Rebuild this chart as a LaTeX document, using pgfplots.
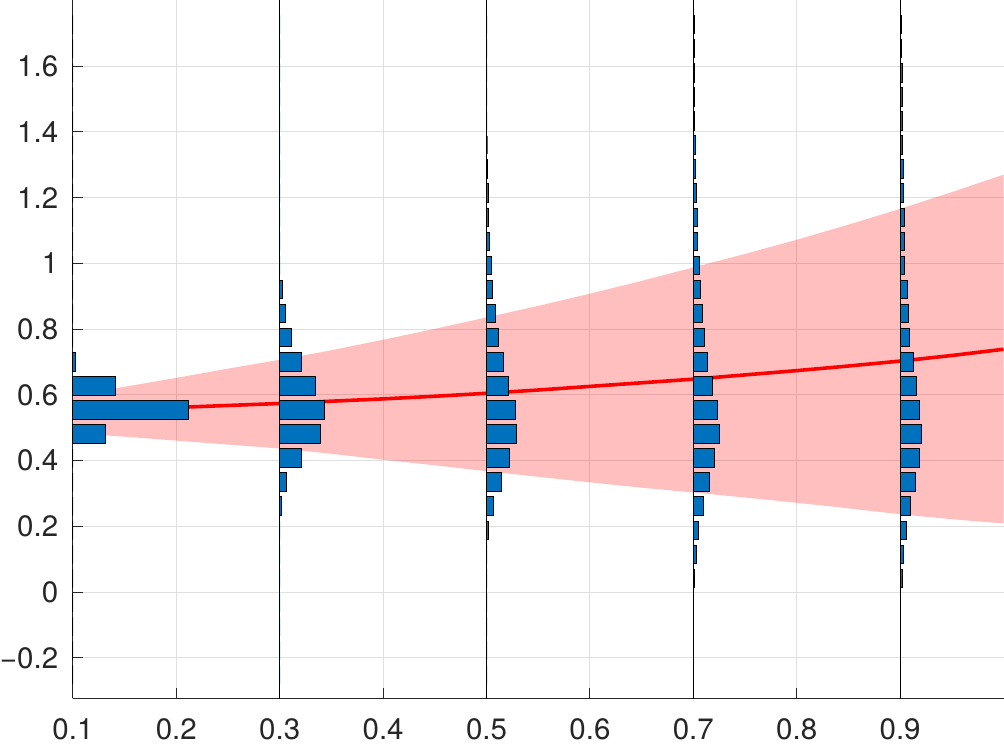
\documentclass[border=0pt]{standalone}
\usepackage{pgfplots}
\pgfplotsset{compat=1.18}
\usepackage{pgfplotstable}
\usepgfplotslibrary{fillbetween}
\usepackage{fontspec}
\setmainfont{TeX Gyre Heros}
\definecolor{barblue}{RGB}{0,114,189}
\definecolor{axgray}{RGB}{38,38,38}
\definecolor{gridgray}{RGB}{223,223,223}
\pgfdeclareplotmark{hbar}{%
  \pgfpathrectangle{\pgfpoint{0pt}{-4.65pt}}{\pgfpoint{\barlen pt}{9.3pt}}%
  \pgfusepathqfillstroke}
\pgfplotstableread{
y a b c d e
-0.25125 0 0 0 0 0
-0.1780 0 0 0 0 0
-0.10475 0 0 0 0 0
-0.0315 0 0 0 0 0
0.04175 0 0 0 0.0007 0.0019
0.1150 0 0 0 0.0029 0.0036
0.18825 0 0 0.0022 0.0051 0.0060
0.2615 0 0.0013 0.0069 0.0101 0.0100
0.33475 0 0.0070 0.0149 0.0160 0.0147
0.4080 0 0.0215 0.0225 0.0207 0.0188
0.48125 0.0316 0.0399 0.0292 0.0249 0.0203
0.5545 0.1120 0.0437 0.0282 0.0229 0.0188
0.62775 0.0412 0.0345 0.0215 0.0190 0.0159
0.7010 0.0022 0.0212 0.0167 0.0133 0.0128
0.77425 0 0.0109 0.0119 0.0111 0.0090
0.8475 0 0.0058 0.0087 0.0092 0.0080
0.92075 0 0.0022 0.0058 0.0073 0.0068
0.9940 0 0 0.0048 0.0055 0.0045
1.06725 0 0 0.0029 0.0045 0.0042
1.1405 0 0 0.0019 0.0036 0.0039
1.21375 0 0 0.0016 0.0026 0.0036
1.2870 0 0 0.0007 0.0022 0.0029
1.36025 0 0 0.0003 0.0022 0.0026
1.4335 0 0 0 0.0016 0.0022
1.50675 0 0 0 0.0016 0.0022
1.5800 0 0 0 0.0008 0.0019
1.65325 0 0 0 0.0007 0.0016
1.7265 0 0 0 0.0007 0.0016
}\hist
\pgfplotstableread{
x up lo m
0.10 0.597 0.484 0.553
0.15 0.625 0.473 0.557
0.20 0.652 0.461 0.562
0.25 0.680 0.449 0.568
0.30 0.707 0.437 0.574
0.35 0.736 0.421 0.581
0.40 0.768 0.403 0.588
0.45 0.801 0.386 0.596
0.50 0.836 0.368 0.605
0.55 0.871 0.351 0.615
0.60 0.908 0.334 0.626
0.65 0.947 0.318 0.637
0.70 0.988 0.303 0.648
0.75 1.029 0.288 0.661
0.80 1.072 0.272 0.674
0.85 1.118 0.255 0.688
0.90 1.166 0.237 0.703
0.95 1.217 0.222 0.720
1.00 1.270 0.209 0.739
}\band
\pgfplotsset{
  hbars/.style={scatter, only marks, mark=hbar,
    mark options={draw=black, fill=barblue, line width=0.5pt},
    scatter/@pre marker code/.code={},
    scatter/@post marker code/.code={}},
}
\begin{document}
\begin{tikzpicture}
\begin{axis}[
  x=519pt, y=165pt,
  xmin=0.1, xmax=1.0, ymin=-0.3233, ymax=1.8,
  axis x line*=bottom, axis y line*=left,
  xtick pos=left, ytick pos=left,
  axis line style={-, draw=axgray, line width=0.5pt},
  xtick={0.1,0.2,0.3,0.4,0.5,0.6,0.7,0.8,0.9},
  xticklabels={0.1,0.2,0.3,0.4,0.5,0.6,0.7,0.8,0.9},
  ytick={-0.2,0,0.2,0.4,0.6,0.8,1,1.2,1.4,1.6},
  yticklabels={−0.2,0,0.2,0.4,0.6,0.8,1,1.2,1.4,1.6},
  tick style={draw=axgray, line width=0.5pt},
  major tick length=5pt,
  grid=major, grid style={draw=gridgray, line width=0.5pt},
  tick label style={font=\fontsize{14.8}{17}\selectfont, text=axgray},
  xticklabel style={inner sep=0pt, inner ysep=2.15pt, yshift=-7.8pt},
  yticklabel style={inner sep=0pt, xshift=-7.2pt},
]
\addplot[draw=none, name path=up] table[x=x, y=up] {\band};
\addplot[draw=none, name path=lo] table[x=x, y=lo] {\band};
\addplot[fill=red, fill opacity=0.25, draw=none] fill between[of=up and lo];
\addplot[red, line width=1.8pt] table[x=x, y=m] {\band};
\addplot[black, line width=0.5pt] coordinates {(0.1,-0.4) (0.1,1.9)};
\addplot[black, line width=0.5pt] coordinates {(0.3,-0.4) (0.3,1.9)};
\addplot[black, line width=0.5pt] coordinates {(0.5,-0.4) (0.5,1.9)};
\addplot[black, line width=0.5pt] coordinates {(0.7,-0.4) (0.7,1.9)};
\addplot[black, line width=0.5pt] coordinates {(0.9,-0.4) (0.9,1.9)};
\addplot[hbars, visualization depends on={519*\thisrow{a}\as\barlen}] table[x expr=0.1, y=y] {\hist};
\addplot[hbars, visualization depends on={519*\thisrow{b}\as\barlen}] table[x expr=0.3, y=y] {\hist};
\addplot[hbars, visualization depends on={519*\thisrow{c}\as\barlen}] table[x expr=0.5, y=y] {\hist};
\addplot[hbars, visualization depends on={519*\thisrow{d}\as\barlen}] table[x expr=0.7, y=y] {\hist};
\addplot[hbars, visualization depends on={519*\thisrow{e}\as\barlen}] table[x expr=0.9, y=y] {\hist};
\end{axis}
\end{tikzpicture}
\end{document}
